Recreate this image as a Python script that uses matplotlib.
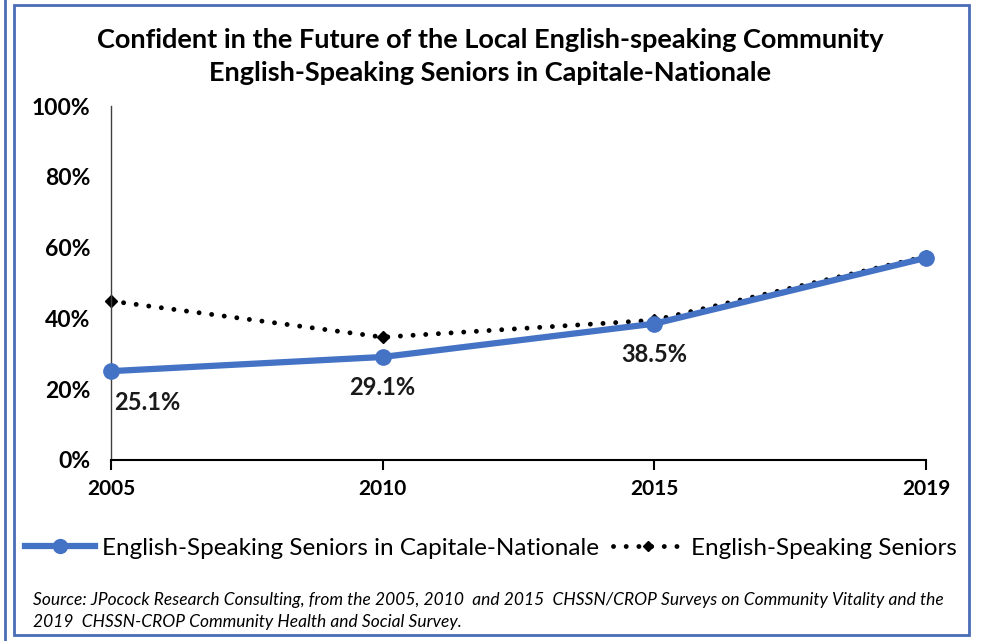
import matplotlib
matplotlib.use("Agg")
import matplotlib.pyplot as plt
from matplotlib.lines import Line2D
from matplotlib.patches import Rectangle

years = ["2005", "2010", "2015", "2019"]
capitale = [25.1, 29.1, 38.5, 57.1]
seniors = [44.9, 34.7, 39.5, 57.5]
capitale_labels = ["25.1%", "29.1%", "38.5%", "57.1%"]
yticks = [0, 20, 40, 60, 80, 100]

BLUE = "#4472C4"
FONT = "Lato"
DOTS = (0, (0.01, 2.6))

fig = plt.figure(figsize=(9.81, 6.41), dpi=100)
ax = fig.add_axes([111 / 981, 1 - 460 / 641, (926 - 111) / 981, (460 - 106) / 641])

x = list(range(len(years)))
ax.plot(x, seniors, color="black", linestyle=DOTS, dash_capstyle="round",
        linewidth=3.5, marker="D", markersize=6, zorder=2)
ax.plot(x, capitale, color=BLUE, linewidth=4.5, marker="o", markersize=11, zorder=3)

# data labels under the blue points
aligns = [(0.01, "left"), (0, "center"), (0, "center"), (0.02, "center")]
for i, (dx, ha) in enumerate(aligns):
    ax.annotate(capitale_labels[i], (x[i] + dx, capitale[i]), xytext=(0, -14),
                textcoords="offset points", ha=ha, va="top", fontsize=17,
                fontweight="bold", family=FONT, color="#1a1a1a")

ax.set_xlim(0, 3)
ax.set_ylim(0, 100)
ax.set_xticks(x)
ax.set_xticklabels(years, fontsize=15, fontweight="bold", family=FONT)
ax.set_yticks(yticks)
ax.set_yticklabels([f"{v}%" for v in yticks], fontsize=16.5, fontweight="bold", family=FONT)
ax.tick_params(axis="y", length=0, pad=15)
ax.tick_params(axis="x", length=7, width=1.5, direction="out", pad=7)
for s in ["top", "right"]:
    ax.spines[s].set_visible(False)
ax.spines["left"].set_color("#404040")
ax.spines["left"].set_linewidth(1)
ax.spines["bottom"].set_linewidth(1.5)
ax.spines["bottom"].set_color("black")
for ln in ax.lines:
    ln.set_clip_on(False)

fig.text(0.5, 1 - 40 / 641, "Confident in the Future of the Local English-speaking Community",
         ha="center", va="center", fontsize=19.5, fontweight="bold", family=FONT)
fig.text(0.5, 1 - 73 / 641, "English-Speaking Seniors in Capitale-Nationale",
         ha="center", va="center", fontsize=19.5, fontweight="bold", family=FONT)

handles = [
    Line2D([], [], color=BLUE, linewidth=4.5, marker="o", markersize=10),
    Line2D([], [], color="black", linestyle=DOTS, dash_capstyle="round",
           linewidth=3.5, marker="D", markersize=5),
]
fig.legend(handles, ["English-Speaking Seniors in Capitale-Nationale", "English-Speaking Seniors"],
           loc="center", bbox_to_anchor=(0.5, 1 - 548 / 641), ncol=2, frameon=False,
           prop={"family": FONT, "size": 17.5}, handlelength=2.9, columnspacing=0.55,
           handletextpad=0.3)

fig.text(33 / 981, 1 - 600 / 641,
         "Source: JPocock Research Consulting, from the 2005, 2010  and 2015  CHSSN/CROP Surveys on Community Vitality and the",
         ha="left", va="center", fontsize=12.5, style="italic", family=FONT)
fig.text(33 / 981, 1 - 622 / 641,
         "2019  CHSSN-CROP Community Health and Social Survey.",
         ha="left", va="center", fontsize=12.5, style="italic", family=FONT)

# outer frame
fig.patches.append(Rectangle((14 / 981, 1 - 635 / 641), (969 - 14) / 981, (635 - 5) / 641,
                             transform=fig.transFigure, fill=False, edgecolor="#4a6db5",
                             linewidth=2))
fig.lines.append(Line2D([5 / 981, 5 / 981], [0, 1], transform=fig.transFigure,
                        color="#4a6db5", linewidth=2))

fig.savefig("out.png", dpi=100)
